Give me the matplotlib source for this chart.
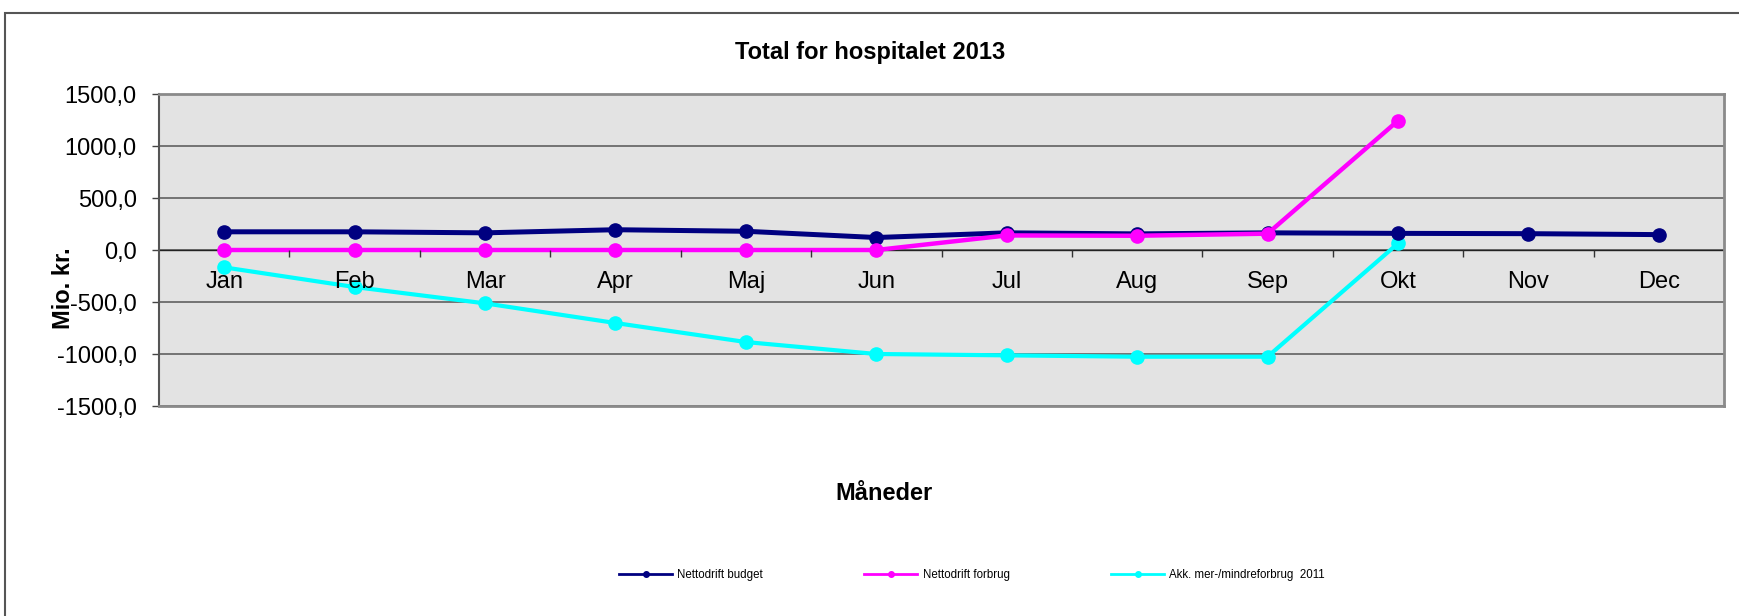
import matplotlib.pyplot as plt
import numpy as np
from matplotlib.lines import Line2D
from matplotlib.patches import Rectangle

plt.rcParams['font.family'] = ['Liberation Sans', 'DejaVu Sans']

months = ["Jan", "Feb", "Mar", "Apr", "Maj", "Jun", "Jul", "Aug", "Sep", "Okt", "Nov", "Dec"]
budget = [175, 175, 165, 195, 180, 120, 165, 155, 165, 160, 157, 148]
forbrug = [0, 0, 0, 0, 0, 0, 140, 137, 157, 1243, np.nan, np.nan]
akk = [-167, -356, -513, -702, -885, -1000, -1013, -1026, -1026, 63, np.nan, np.nan]

W, H = 1739, 616
fig = plt.figure(figsize=(W / 100, H / 100), dpi=100)
ax = fig.add_axes([159 / W, 1 - 406 / H, (1724 - 159) / W, (406 - 94) / H])
ax.set_facecolor("#e3e3e3")

x = np.arange(len(months))
ax.plot(x, budget, color="#000080", lw=3.6, marker="o", ms=9.5, zorder=4)
ax.plot(x, forbrug, color="#ff00ff", lw=3.2, marker="o", ms=9.5, zorder=4)
ax.plot(x, akk, color="#00ffff", lw=3.0, marker="o", ms=9.5, zorder=3)

ax.set_xlim(-0.5, 11.5)
ax.set_ylim(-1500, 1500)
ax.set_yticks(np.arange(-1500, 1501, 500))
ax.yaxis.set_major_formatter(plt.FuncFormatter(lambda v, p: f"{v:.1f}".replace(".", ",")))
ax.tick_params(axis="y", labelsize=17, length=5, width=1, color="#444444", pad=11)
ax.grid(axis="y", color="#737373", lw=1.4)
ax.set_axisbelow(True)

# frame of plot area
for s in ["top", "right", "bottom"]:
    ax.spines[s].set_color("#8a8a8a")
    ax.spines[s].set_linewidth(2)
ax.spines["left"].set_color("#555555")
ax.spines["left"].set_linewidth(1.5)
ax.set_xticks([])

# category axis crossing at zero (labels drawn above the lines)
sec = ax.secondary_xaxis(0.5)
sec.set_alignment("bottom")
sec.set_zorder(6)
sec.spines["bottom"].set_visible(False)
sec.set_xticks(np.arange(0.5, 11, 1))
sec.set_xticklabels([])
sec.set_xticks(x, minor=True)
sec.set_xticklabels(months, minor=True)
sec.tick_params(axis="x", which="major", length=5, width=1, color="#333333")
sec.tick_params(axis="x", which="minor", length=0, labelsize=17, pad=15)
ax.axhline(0, color="#222222", lw=1, zorder=2)

fig.text(870 / W, 1 - 53 / H, "Total for hospitalet 2013", ha="center", va="center",
         fontsize=17, fontweight="bold")
fig.text(884 / W, 1 - 494 / H, "Måneder", ha="center", va="center",
         fontsize=17, fontweight="bold")
fig.text(63 / W, 1 - 288 / H, "Mio. kr.", ha="center", va="center", rotation=90,
         fontsize=17, fontweight="bold")

handles = [
    Line2D([], [], color="#000080", lw=2, marker="o", ms=4),
    Line2D([], [], color="#ff00ff", lw=2, marker="o", ms=4),
    Line2D([], [], color="#00ffff", lw=2, marker="o", ms=4),
]
labels = ["Nettodrift budget", "Nettodrift forbrug", "Akk. mer-/mindreforbrug  2011"]
fig.legend(handles, labels, loc="center", bbox_to_anchor=(972 / W, 1 - 575 / H),
           ncol=3, frameon=False, fontsize=8.3, handlelength=4.6, handletextpad=0.45,
           columnspacing=8.8)

# outer chart frame
fig.add_artist(Rectangle((5 / W, -0.2), 1.2, 1.2 - 13 / H, transform=fig.transFigure,
                         fill=False, edgecolor="#555555", lw=1.5))

fig.savefig("out.png", dpi=100)
